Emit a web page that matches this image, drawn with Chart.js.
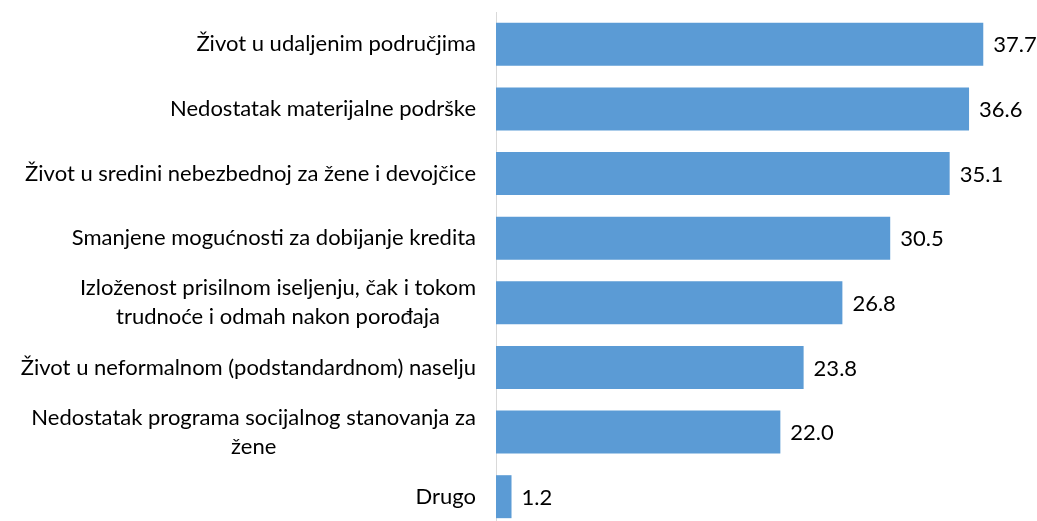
<!DOCTYPE html>
<html>
<head>
<meta charset="utf-8">
<script src="https://cdn.jsdelivr.net/npm/chart.js@4"></script>
<style>
  html, body { margin: 0; padding: 0; background: #fff; overflow: hidden; }
  #wrap { width: 1037px; height: 530px; }
</style>
</head>
<body>
<div id="wrap"><canvas id="chart"></canvas></div>
<script>
// categories and values
var labels = [
  "Život u udaljenim područjima",
  "Nedostatak materijalne podrške",
  "Život u sredini nebezbednoj za žene i devojčice",
  "Smanjene mogućnosti za dobijanje kredita",
  ["Izloženost prisilnom iseljenju, čak i tokom", "trudnoće i odmah nakon porođaja"],
  "Život u neformalnom (podstandardnom) naselju",
  ["Nedostatak programa socijalnog stanovanja za", "žene"],
  "Drugo"
];
var values = [37.7, 36.6, 35.1, 30.5, 26.8, 23.8, 22.0, 1.2];

var fontFamily = "Lato, 'Open Sans', sans-serif";

// value labels at the end of each bar, and category labels whose
// wrapped lines are centred on each other (block stays right aligned)
var textPlugin = {
  id: 'textPlugin',
  afterDraw: function(chart) {
    var ctx = chart.ctx;
    var meta = chart.getDatasetMeta(0);
    var yScale = chart.scales.y;
    ctx.save();
    ctx.font = "22px " + fontFamily;
    ctx.fillStyle = "#000";
    ctx.textBaseline = "middle";

    ctx.textAlign = "left";
    meta.data.forEach(function(bar, i) {
      ctx.fillText(values[i].toFixed(1), bar.x + 10, bar.y + 1);
    });

    ctx.textAlign = "center";
    var right = yScale.right - 20;
    var lineH = 29;
    labels.forEach(function(lab, i) {
      var lines = Array.isArray(lab) ? lab : [lab];
      var w = 0;
      lines.forEach(function(l) { w = Math.max(w, ctx.measureText(l).width); });
      var cx = right - w / 2;
      var cy = yScale.getPixelForTick(i);
      var y0 = cy - (lines.length - 1) * lineH / 2;
      lines.forEach(function(l, k) {
        ctx.fillText(l, cx, y0 + k * lineH);
      });
    });
    ctx.restore();
  }
};

new Chart(document.getElementById('chart'), {
  type: 'bar',
  data: {
    labels: labels,
    datasets: [{
      data: values,
      backgroundColor: '#5b9bd5',
      borderWidth: 0,
      categoryPercentage: 1,
      barPercentage: 0.665
    }]
  },
  options: {
    indexAxis: 'y',
    responsive: true,
    maintainAspectRatio: false,
    animation: false,
    layout: { padding: { top: 12, bottom: 1, left: 0, right: 24 } },
    plugins: {
      legend: { display: false },
      tooltip: { enabled: false }
    },
    scales: {
      x: {
        min: 0,
        max: 40,
        display: false
      },
      y: {
        afterFit: function(scale) {
          scale.width = 496;
          scale.paddingTop = 0;
          scale.paddingBottom = 0;
        },
        grid: { display: false, drawTicks: false },
        border: { display: true, color: '#d9d9d9', width: 1 },
        ticks: {
          color: 'rgba(0,0,0,0)',
          padding: 20,
          font: { family: fontFamily, size: 22, lineHeight: 1.23 }
        }
      }
    }
  },
  plugins: [textPlugin]
});
</script>
</body>
</html>
